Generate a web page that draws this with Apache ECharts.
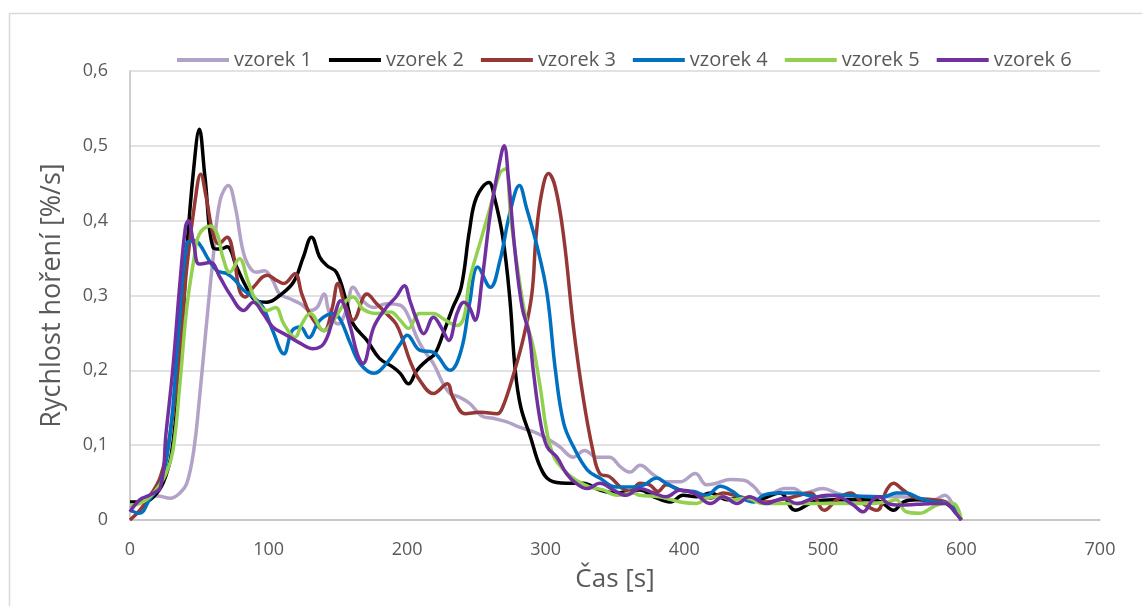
<!DOCTYPE html>
<html>
<head>
<meta charset="utf-8">
<script src="https://cdn.jsdelivr.net/npm/echarts@6/dist/echarts.min.js"></script>
<style>
  html, body { margin: 0; padding: 0; background: #fff; }
  #chart { width: 1142px; height: 606px; }
</style>
</head>
<body>
<div id="chart"></div>
<script>
const seriesNames = ['vzorek 1', 'vzorek 2', 'vzorek 3', 'vzorek 4', 'vzorek 5', 'vzorek 6']
const colors = ['#b3a2c7', '#000000', '#953735', '#0070c0', '#92d050', '#7030a0']
const xTicks = [0, 100, 200, 300, 400, 500, 600, 700]
const yTicks = [0, 0.1, 0.2, 0.3, 0.4, 0.5, 0.6]

// [cas s, rychlost %/s]
const vzorek1 = [[0,0.016],[10,0.028],[20,0.032],[29,0.029],[36,0.036],[41,0.049],[46,0.093],[50,0.16],[55,0.258],[60,0.351],[65,0.427],[71,0.447],[76,0.418],[81,0.364],[85,0.342],[91,0.331],[97,0.333],[103,0.32],[108,0.302],[115,0.296],[123,0.289],[130,0.28],[135,0.284],[140,0.302],[144,0.276],[150,0.262],[156,0.28],[161,0.311],[168,0.293],[176,0.284],[185,0.289],[195,0.287],[200,0.276],[207,0.244],[212,0.227],[219,0.209],[226,0.182],[231,0.169],[238,0.164],[245,0.156],[255,0.138],[262,0.136],[272,0.131],[281,0.124],[291,0.118],[301,0.109],[310,0.098],[320,0.084],[328,0.093],[337,0.084],[346,0.084],[354,0.071],[361,0.064],[368,0.073],[378,0.06],[387,0.051],[397,0.051],[408,0.062],[416,0.047],[423,0.049],[433,0.054],[443,0.053],[450,0.045],[457,0.033],[464,0.036],[472,0.042],[479,0.042],[486,0.036],[500,0.042],[510,0.036],[520,0.031],[532,0.032],[544,0.031],[556,0.031],[568,0.029],[580,0.027],[588,0.033],[594,0.02],[600,0]]
const vzorek2 = [[0,0.024],[10,0.024],[17,0.031],[24,0.05],[30,0.09],[36,0.2],[41,0.36],[46,0.47],[50,0.522],[54,0.46],[60,0.364],[65,0.362],[70,0.365],[77,0.338],[84,0.311],[91,0.293],[99,0.291],[108,0.3],[118,0.318],[125,0.351],[131,0.378],[137,0.351],[142,0.34],[149,0.331],[156,0.293],[161,0.262],[171,0.24],[180,0.216],[190,0.204],[195,0.196],[201,0.182],[207,0.2],[214,0.213],[220,0.222],[226,0.249],[233,0.284],[239,0.311],[245,0.387],[250,0.431],[259,0.451],[263,0.431],[269,0.378],[274,0.298],[278,0.2],[282,0.151],[289,0.111],[296,0.071],[303,0.053],[315,0.049],[327,0.049],[339,0.04],[351,0.036],[368,0.04],[378,0.031],[390,0.024],[399,0.033],[409,0.031],[419,0.036],[431,0.027],[440,0.029],[452,0.027],[469,0.036],[480,0.013],[493,0.024],[508,0.027],[520,0.027],[532,0.027],[541,0.025],[551,0.013],[558,0.024],[568,0.027],[580,0.025],[589,0.022],[600,0]]
const vzorek3 = [[0,0],[7,0.013],[14,0.031],[22,0.058],[29,0.116],[36,0.227],[41,0.338],[47,0.427],[51,0.462],[55,0.431],[60,0.382],[64,0.369],[70,0.378],[75,0.351],[79,0.307],[83,0.298],[89,0.311],[99,0.327],[106,0.32],[111,0.316],[119,0.329],[124,0.302],[131,0.271],[140,0.253],[146,0.284],[150,0.316],[155,0.289],[161,0.267],[171,0.302],[178,0.289],[185,0.276],[192,0.262],[197,0.24],[202,0.213],[209,0.187],[219,0.169],[229,0.182],[233,0.164],[242,0.142],[253,0.144],[265,0.142],[269,0.151],[277,0.196],[284,0.244],[290,0.302],[293,0.378],[297,0.436],[302,0.463],[307,0.444],[313,0.378],[320,0.258],[327,0.164],[334,0.093],[339,0.062],[346,0.058],[354,0.044],[361,0.038],[368,0.049],[375,0.047],[381,0.038],[387,0.047],[397,0.04],[409,0.036],[419,0.029],[428,0.036],[440,0.031],[450,0.027],[459,0.024],[469,0.027],[479,0.031],[491,0.036],[501,0.013],[510,0.027],[520,0.036],[529,0.022],[539,0.013],[546,0.04],[551,0.049],[558,0.04],[568,0.029],[580,0.027],[589,0.024],[600,0]]
const vzorek4 = [[0,0.013],[7,0.009],[14,0.027],[22,0.049],[29,0.116],[35,0.249],[41,0.369],[46,0.373],[50,0.369],[57,0.347],[63,0.333],[70,0.329],[76,0.32],[82,0.307],[89,0.298],[96,0.284],[103,0.253],[111,0.222],[117,0.253],[123,0.258],[129,0.244],[137,0.267],[147,0.276],[152,0.267],[159,0.236],[166,0.209],[176,0.196],[185,0.209],[195,0.235],[200,0.247],[209,0.227],[219,0.224],[231,0.2],[239,0.227],[245,0.289],[251,0.338],[260,0.311],[267,0.347],[274,0.409],[281,0.447],[286,0.418],[294,0.364],[301,0.302],[307,0.2],[313,0.129],[320,0.098],[330,0.067],[339,0.056],[351,0.044],[363,0.044],[371,0.047],[380,0.056],[387,0.049],[397,0.04],[407,0.038],[416,0.033],[426,0.045],[435,0.038],[440,0.031],[450,0.024],[457,0.033],[469,0.036],[481,0.036],[495,0.031],[508,0.033],[517,0.033],[532,0.031],[544,0.031],[553,0.036],[560,0.036],[570,0.029],[580,0.024],[589,0.023],[600,0]]
const vzorek5 = [[0,0.02],[7,0.022],[17,0.036],[26,0.062],[31,0.093],[36,0.182],[41,0.284],[46,0.347],[50,0.382],[58,0.393],[63,0.382],[67,0.351],[72,0.331],[79,0.349],[85,0.32],[91,0.293],[99,0.28],[105,0.284],[111,0.262],[119,0.244],[124,0.262],[130,0.276],[140,0.253],[147,0.267],[156,0.293],[161,0.298],[168,0.282],[178,0.276],[188,0.278],[195,0.267],[201,0.256],[209,0.276],[219,0.276],[226,0.269],[236,0.26],[241,0.271],[245,0.32],[253,0.373],[260,0.418],[267,0.464],[271,0.469],[275,0.4],[282,0.307],[286,0.267],[291,0.231],[296,0.178],[301,0.116],[306,0.084],[313,0.067],[322,0.053],[332,0.044],[342,0.04],[351,0.033],[363,0.036],[368,0.033],[382,0.031],[397,0.024],[409,0.022],[416,0.029],[426,0.031],[435,0.027],[445,0.029],[457,0.022],[470,0.022],[488,0.022],[503,0.022],[520,0.022],[532,0.022],[546,0.024],[553,0.027],[560,0.011],[570,0.009],[580,0.018],[587,0.022],[594,0.022],[600,0]]
const vzorek6 = [[0,0.011],[7,0.027],[14,0.033],[22,0.044],[26,0.116],[31,0.204],[36,0.316],[40,0.391],[42,0.4],[46,0.369],[50,0.342],[58,0.344],[65,0.324],[72,0.302],[82,0.28],[89,0.291],[96,0.276],[103,0.258],[113,0.247],[123,0.236],[132,0.229],[140,0.236],[147,0.271],[152,0.293],[159,0.258],[164,0.222],[168,0.209],[176,0.258],[185,0.284],[192,0.298],[198,0.313],[202,0.293],[207,0.267],[212,0.249],[219,0.271],[225,0.256],[230,0.24],[236,0.276],[241,0.291],[245,0.284],[249,0.267],[254,0.32],[260,0.409],[266,0.471],[270,0.5],[273,0.458],[278,0.356],[283,0.284],[288,0.249],[291,0.2],[296,0.133],[301,0.098],[308,0.084],[315,0.062],[322,0.049],[330,0.042],[339,0.049],[349,0.04],[358,0.033],[368,0.042],[378,0.036],[387,0.031],[397,0.04],[407,0.036],[419,0.022],[428,0.031],[438,0.022],[447,0.031],[459,0.022],[472,0.029],[481,0.022],[493,0.029],[503,0.033],[512,0.031],[522,0.02],[529,0.011],[536,0.027],[541,0.031],[547,0.022],[556,0.02],[568,0.021],[580,0.022],[589,0.022],[595,0.011],[600,0]]

const allData = [vzorek1, vzorek2, vzorek3, vzorek4, vzorek5, vzorek6]

const font = '"Open Sans", sans-serif'
const textColor = '#595959'

const chart = echarts.init(document.getElementById('chart'))

chart.setOption({
    animation: false,
    textStyle: {fontFamily: font},
    graphic: [{
        type: 'rect',
        shape: {x: 9.5, y: 13.5, width: 1200, height: 700},
        style: {fill: 'none', stroke: '#d9d9d9', lineWidth: 1.5},
        silent: true
    }],
    legend: {
        top: 45,
        left: 172,
        icon: 'rect',
        itemWidth: 52,
        itemHeight: 4,
        itemGap: 17,
        textStyle: {fontSize: 20, color: textColor, fontFamily: font},
        data: seriesNames
    },
    grid: {left: 130, right: 42, top: 71, bottom: 86},
    xAxis: {
        type: 'value',
        min: xTicks[0],
        max: xTicks[xTicks.length - 1],
        interval: 100,
        name: 'Čas [s]',
        nameLocation: 'middle',
        nameGap: 47,
        nameTextStyle: {fontSize: 26, color: textColor, fontFamily: font},
        axisLine: {show: true, lineStyle: {color: '#bfbfbf', width: 1.5}},
        axisTick: {show: false},
        axisLabel: {fontSize: 18, color: textColor, margin: 21},
        splitLine: {show: false}
    },
    yAxis: {
        type: 'value',
        min: yTicks[0],
        max: yTicks[yTicks.length - 1],
        interval: 0.1,
        name: 'Rychlost hoření [%/s]',
        nameLocation: 'middle',
        nameGap: 64,
        nameTextStyle: {fontSize: 27, color: textColor, fontFamily: font},
        axisLine: {show: true, lineStyle: {color: '#bfbfbf', width: 1.5}},
        axisTick: {show: false},
        axisLabel: {
            fontSize: 18,
            color: textColor,
            margin: 22,
            formatter: v => String(Math.round(v * 10) / 10).replace('.', ',')
        },
        splitLine: {lineStyle: {color: '#d9d9d9', width: 1.5}}
    },
    series: seriesNames.map((name, i) => ({
        name: name,
        type: 'line',
        data: allData[i],
        smooth: 0.4,
        showSymbol: false,
        symbol: 'none',
        lineStyle: {color: colors[i], width: 3.5},
        itemStyle: {color: colors[i]},
        z: 2 + i
    }))
})
</script>
</body>
</html>
